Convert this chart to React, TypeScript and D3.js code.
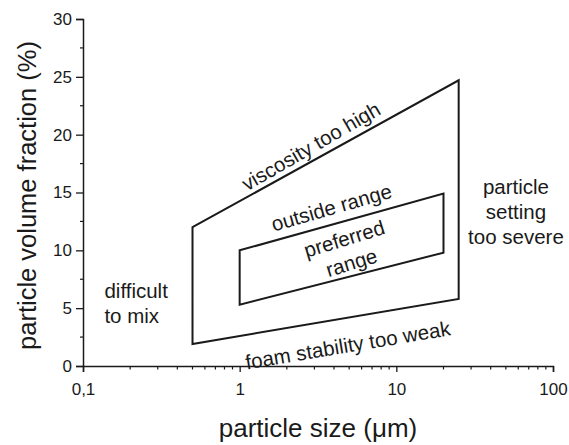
import React, { useEffect, useRef } from 'react';
import * as d3 from 'd3';

// region outlines: particle size (µm) vs volume fraction (%)
const outerRegion = [
  { size: 0.5, frac: 12 },
  { size: 25, frac: 24.7 },
  { size: 25, frac: 5.8 },
  { size: 0.5, frac: 1.9 },
];
const preferredRegion = [
  { size: 1, frac: 10 },
  { size: 20, frac: 14.9 },
  { size: 20, frac: 9.8 },
  { size: 1, frac: 5.3 },
];

const xTicks = [0.1, 1, 10, 100];
const xTickLabels = ['0,1', '1', '10', '100'];
const yTicks = [0, 5, 10, 15, 20, 25, 30];

// annotation text, anchored in data units
const annotations = [
  { lines: ['viscosity too high'], size: 2.85, frac: 19.0, angle: -30, anchor: 'middle' },
  { lines: ['outside range'], size: 3.85, frac: 13.7, angle: -16, anchor: 'middle' },
  { lines: ['preferred', 'range'], size: 4.65, frac: 11.0, angle: -17, anchor: 'middle' },
  { lines: ['foam stability too weak'], size: 4.9, frac: 1.8, angle: -9.5, anchor: 'middle' },
  { lines: ['difficult', 'to mix'], size: 0.137, frac: 6.5, angle: 0, anchor: 'start' },
  { lines: ['particle', 'setting', 'too severe'], size: 58, frac: 15.5, angle: 0, anchor: 'middle' },
];

const width = 569;
const height = 445;
const font = '"Liberation Sans", Arial, Helvetica, sans-serif';

const App = () => {
  const ref = useRef<SVGSVGElement>(null);

  useEffect(() => {
    const svg = d3.select(ref.current);
    svg.selectAll('*').remove();

    const x = d3.scaleLog().domain([0.1, 100]).range([83, 553]);
    const y = d3.scaleLinear().domain([0, 30]).range([366, 19]);

    const ink = '#1a1a1a';

    // y axis
    const yAxis = d3.axisLeft(y).tickValues(yTicks).tickSize(7).tickPadding(4).tickFormat(d3.format('d'));
    const gy = svg.append('g').attr('transform', `translate(${x(0.1)},0)`).call(yAxis);
    gy.select('.domain').attr('stroke', ink).attr('stroke-width', 1.5);
    gy.selectAll('.tick line').attr('stroke', ink).attr('stroke-width', 1.3);
    gy.selectAll('.tick text').attr('font-family', font).attr('font-size', 17).attr('fill', ink);
    gy.selectAll('.minor')
      .data(d3.range(2.5, 30, 5))
      .enter()
      .append('line')
      .attr('x1', -3)
      .attr('x2', 0)
      .attr('y1', d => y(d))
      .attr('y2', d => y(d))
      .attr('stroke', ink)
      .attr('stroke-width', 1.2);

    // x axis
    const xAxis = d3.axisBottom(x).tickValues(xTicks).tickSize(6).tickPadding(11)
      .tickFormat((d, i) => xTickLabels[i]);
    const gx = svg.append('g').attr('transform', `translate(0,${y(0)})`).call(xAxis);
    gx.select('.domain').attr('stroke', ink).attr('stroke-width', 1.5);
    gx.selectAll('.tick line').attr('stroke', ink).attr('stroke-width', 1.3);
    gx.selectAll('.tick text').attr('font-family', font).attr('font-size', 17).attr('fill', ink);
    const minorX = [0.1, 1, 10].flatMap(dec => d3.range(2, 10).map(k => k * dec));
    gx.selectAll('.minor')
      .data(minorX)
      .enter()
      .append('line')
      .attr('x1', d => x(d))
      .attr('x2', d => x(d))
      .attr('y1', 0)
      .attr('y2', 3.5)
      .attr('stroke', ink)
      .attr('stroke-width', 1.2);

    // axis titles
    svg.append('text')
      .attr('transform', `translate(${x(0.1) - 54},${(y(0) + y(30)) / 2 + 3}) rotate(-90)`)
      .attr('text-anchor', 'middle')
      .attr('dominant-baseline', 'middle')
      .attr('font-family', font)
      .attr('font-size', 25.5)
      .attr('fill', ink)
      .text('particle volume fraction (%)');

    svg.append('text')
      .attr('x', 318)
      .attr('y', 437)
      .attr('text-anchor', 'middle')
      .attr('font-family', font)
      .attr('font-size', 26)
      .attr('fill', ink)
      .text('particle size (\u03bcm)');

    // regions
    const line = d3.line<{ size: number; frac: number }>()
      .x(d => x(d.size))
      .y(d => y(d.frac))
      .curve(d3.curveLinearClosed);

    [outerRegion, preferredRegion].forEach(region => {
      svg.append('path')
        .attr('d', line(region))
        .attr('fill', 'none')
        .attr('stroke', ink)
        .attr('stroke-width', 2)
        .attr('stroke-linejoin', 'miter');
    });

    // annotations
    annotations.forEach(a => {
      const t = svg.append('text')
        .attr('transform', `translate(${x(a.size)},${y(a.frac)}) rotate(${a.angle})`)
        .attr('text-anchor', a.anchor)
        .attr('font-family', font)
        .attr('font-size', 20.5)
        .attr('fill', ink);
      a.lines.forEach((l, i) => {
        t.append('tspan')
          .attr('x', 0)
          .attr('dy', i === 0 ? '0.35em' : '1.22em')
          .text(l);
      });
    });
  }, []);

  return (
    <svg
      ref={ref}
      width={width}
      height={height}
      style={{ position: 'absolute', left: 0, top: 0, background: '#fff' }}
    />
  );
};

export default App;
